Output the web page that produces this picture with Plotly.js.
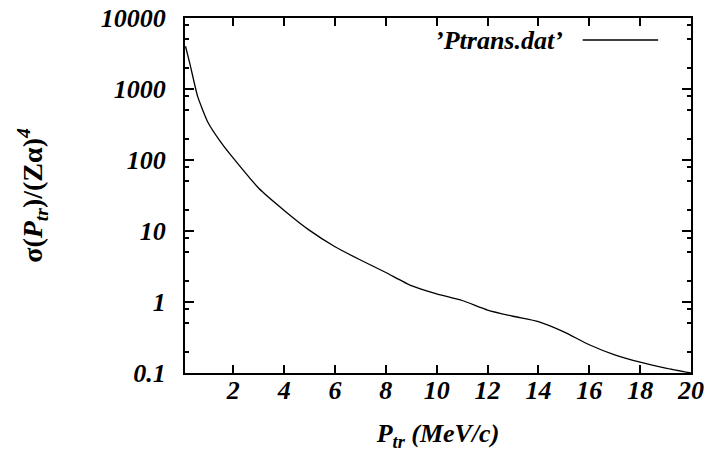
<!DOCTYPE html>
<html>
<head>
<meta charset="utf-8">
<script src="https://cdn.plot.ly/plotly-3.0.1.min.js"></script>
<style>html,body{margin:0;padding:0;background:#fff;}#chart{width:708px;height:459px;}</style>
</head>
<body>
<div id="chart"></div>
<script>
// Data
const ptr = [0.12, 0.3, 0.6, 1.0, 1.5, 2, 3, 4, 5, 6, 7, 8, 9, 10, 11, 12, 13, 14, 15, 16, 17, 18, 19, 20];
const sigma = [4000, 2200, 780, 340, 180, 106, 40, 19.5, 10.2, 6.0, 3.9, 2.6, 1.7, 1.3, 1.05, 0.77, 0.63, 0.53, 0.38, 0.25, 0.18, 0.142, 0.117, 0.10];
const seriesName = "’Ptrans.dat’";
const xTicks = [2, 4, 6, 8, 10, 12, 14, 16, 18, 20];
const yTicks = [0.1, 1, 10, 100, 1000, 10000];
const yTickText = ['0.1', '1', '10', '100', '1000', '10000'];
const yMinor = [0.2, 0.5, 0.8, 2, 5, 8, 20, 50, 80, 200, 500, 800, 2000, 5000, 8000];

const serif = '"Liberation Serif", "DejaVu Serif", serif';
const tickFont = {family: serif, size: 26, weight: 700, style: 'italic', color: '#000'};

const traces = [
  {x: ptr, y: sigma, type: 'scatter', mode: 'lines', name: seriesName,
   line: {color: '#000', width: 1.3, shape: 'spline', smoothing: 0.5}, showlegend: false},
  {x: [ptr[0]], y: [sigma[0]], yaxis: 'y2', type: 'scatter', mode: 'none', showlegend: false, hoverinfo: 'skip'}
];

const layout = {
  width: 708, height: 459,
  margin: {l: 185, r: 17, t: 18, b: 86},
  paper_bgcolor: '#fff', plot_bgcolor: '#fff',
  font: {family: serif, color: '#000'},
  showlegend: false,
  xaxis: {
    range: [0.1, 20], tickvals: xTicks, ticks: 'inside', ticklen: 8, tickwidth: 2, tickcolor: '#000',
    showline: true, linewidth: 2, linecolor: '#000', mirror: 'ticks', showgrid: false, zeroline: false,
    tickfont: tickFont, ticklabelstandoff: -7,
    title: {text: '<i>P</i><sub><i>tr</i></sub><i> (MeV/c)</i>', font: {family: serif, size: 26, weight: 700, color: '#000'}, standoff: 20}
  },
  yaxis: {
    type: 'log', range: [-1, 4], tickvals: yTicks, ticktext: yTickText, ticks: 'inside', ticklen: 9, tickwidth: 2, tickcolor: '#000',
    showline: true, linewidth: 2, linecolor: '#000', mirror: 'ticks', showgrid: false, zeroline: false,
    tickfont: tickFont, ticklabelstandoff: 12,
    title: {text: 'σ(<i>P</i><sub><i>tr</i></sub>)/(Zα)<sup><i>4</i></sup>', font: {family: serif, size: 28, weight: 700, color: '#000'}, standoff: 50}
  },
  yaxis2: {
    type: 'log', range: [-1, 4], overlaying: 'y', side: 'left', tickvals: yMinor, ticks: 'inside', ticklen: 4, tickwidth: 2, tickcolor: '#000',
    showticklabels: false, showline: false, mirror: 'ticks', showgrid: false, zeroline: false
  },
  annotations: [
    {xref: 'paper', yref: 'paper', x: 0.751, y: 0.938, xanchor: 'right', yanchor: 'middle', showarrow: false,
     text: seriesName, font: {family: serif, size: 26, weight: 700, style: 'italic', color: '#000'}}
  ],
  shapes: [
    {type: 'line', xref: 'paper', yref: 'paper', x0: 0.786, x1: 0.935, y0: 0.938, y1: 0.938, line: {color: '#000', width: 1.3}}
  ]
};

Plotly.newPlot('chart', traces, layout, {displayModeBar: false, staticPlot: true});
</script>
</body>
</html>
